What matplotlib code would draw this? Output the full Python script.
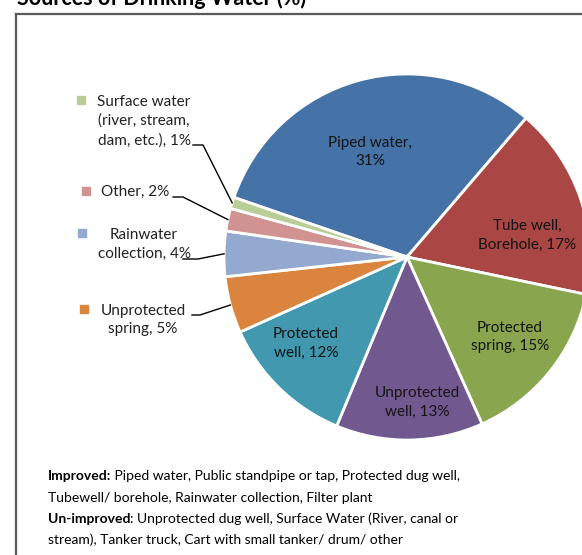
import numpy as np
import matplotlib
matplotlib.use("Agg")
import matplotlib.pyplot as plt
import matplotlib.patches as mpatches
from matplotlib.lines import Line2D

plt.rcParams['font.family'] = ['Lato', 'DejaVu Sans']

# datos
nombres = ["Piped water", "Tube well,\nBorehole", "Protected\nspring", "Unprotected\nwell",
           "Protected\nwell", "Unprotected\nspring", "Rainwater\ncollection", "Other",
           "Surface water\n(river, stream,\ndam, etc.)"]
separadores = [",\n", ", ", ", ", ", ", ", ", ", ", ", ", ", ", ", "]
porcentajes = [31, 17, 15, 13, 12, 5, 4, 2, 1]
colores = ["#4572A7", "#AA4643", "#89A54E", "#71588F", "#4198AF",
           "#DB843D", "#93A9CF", "#D19392", "#B9CD96"]
separacion = [0.03, 0.035, 0.03, 0.01, 0, 0, 0, 0, 0]

titulo = "Sources of Drinking Water (%)"
nota_negrita = ["Improved:", "Un-improved"]
nota_normal = [" Piped water, Public standpipe or tap, Protected dug well,\nTubewell/ borehole, Rainwater collection, Filter plant",
               ": Unprotected dug well, Surface Water (River, canal or\nstream), Tanker truck, Cart with small tanker/ drum/ other"]

# layout en pixeles (origen arriba a la izquierda)
W, H = 582, 555
cx, cy = 407, 257
radio = 183
# etiquetas dentro del pastel
pos_dentro = [(370, 152), (527, 235), (510, 337), (417, 402), (306, 343)]
# etiquetas fuera: (texto centro, cuadro centro, fin del texto, codo)
pos_fuera = {
    5: ((143, 320), (84, 309), (192, 315), (200, 315)),
    6: ((144, 244), (82, 233), (183, 259), (198, 259)),
    7: ((135, 192), (86, 191), (173, 197), (183, 197)),
    8: ((144, 121), (81, 100), (193, 145), (203, 145)),
}


def a_datos(x, y):
    return x - cx, cy - y


fig = plt.figure(figsize=(W / 100, H / 100), dpi=100)
ax = fig.add_axes([(cx - 200) / W, (H - cy - 200) / H, 400 / W, 400 / H])

wedges, _ = ax.pie(porcentajes, colors=colores, radius=radio, startangle=161,
                   counterclock=False, explode=separacion,
                   wedgeprops=dict(edgecolor='white', linewidth=2))
ax.set_xlim(-200, 200)
ax.set_ylim(-200, 200)
ax.set_aspect('equal')
ax.axis('off')

etiquetas = [n + s + f"{p}%" for n, s, p in zip(nombres, separadores, porcentajes)]

for i, (px, py) in enumerate(pos_dentro):
    x, y = a_datos(px, py)
    ax.text(x, y, etiquetas[i], ha='center', va='center', fontsize=11,
            color='#141414', linespacing=1.45)

for i, (txt, cuadro, fin, codo) in pos_fuera.items():
    x, y = a_datos(*txt)
    ax.text(x, y, etiquetas[i], ha='center', va='center', fontsize=11,
            color='#222222', linespacing=1.45, clip_on=False)
    qx, qy = a_datos(*cuadro)
    ax.add_patch(mpatches.Rectangle((qx - 4, qy - 4), 8, 8, color=colores[i], clip_on=False))
    w = wedges[i]
    medio = np.radians((w.theta1 + w.theta2) / 2)
    ex = w.center[0] + w.r * np.cos(medio)
    ey = w.center[1] + w.r * np.sin(medio)
    x1, y1 = a_datos(*fin)
    x2, y2 = a_datos(*codo)
    ax.plot([x1, x2, ex], [y1, y2, ey], color='black', lw=1.0, clip_on=False)

# marco
fig.add_artist(Line2D([16 / W, 16 / W], [1 - 14 / H, -0.1], color='#595959', lw=1.6))
fig.add_artist(Line2D([16 / W, 1.1], [1 - 14 / H, 1 - 14 / H], color='#595959', lw=1.6))

# titulo (recortado arriba, como en la imagen original)
fig.text(17 / W, 1 - 5 / H, titulo, fontsize=15.5, fontweight='bold', ha='left', va='baseline')

# nota
ys = [480, 523]
for b, n, yy in zip(nota_negrita, nota_normal, ys):
    t = fig.text(48 / W, 1 - yy / H, b, fontsize=10, fontweight='bold', ha='left',
                 va='baseline', color='black')
    lineas = n.split("\n")
    fig.canvas.draw()
    bb = t.get_window_extent()
    fig.text(bb.x1 / W, 1 - yy / H, lineas[0], fontsize=10, ha='left', va='baseline', color='black')
    fig.text(48 / W, 1 - (yy + 21.5) / H, lineas[1], fontsize=10, ha='left', va='baseline', color='black')

plt.savefig("out.png", dpi=100)
